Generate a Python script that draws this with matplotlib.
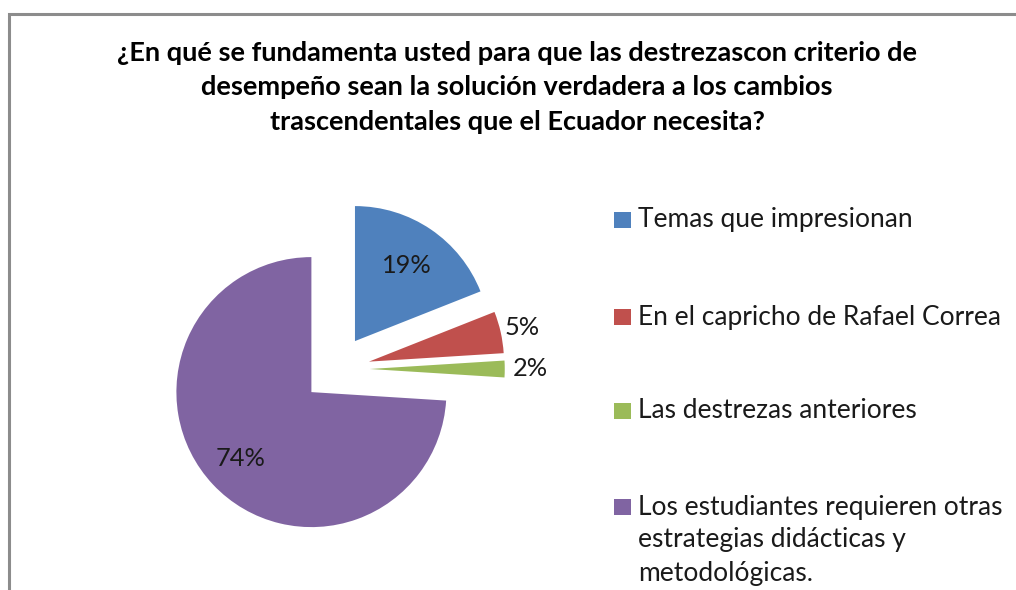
import matplotlib
matplotlib.use("Agg")
import matplotlib.pyplot as plt
from matplotlib.patches import Rectangle
import numpy as np

title = ("¿En qué se fundamenta usted para que las destrezascon criterio de\n"
         "desempeño sean la solución verdadera a los cambios\n"
         "trascendentales que el Ecuador necesita?")
categories = ["Temas que impresionan",
              "En el capricho de Rafael Correa",
              "Las destrezas anteriores",
              "Los estudiantes requieren otras\nestrategias didácticas y\nmetodológicas."]
values = [19, 5, 2, 74]
pct_labels = ["19%", "5%", "2%", "74%"]

colors = ["#4F81BD", "#C0504D", "#9BBB59", "#8064A2"]
label_dist = [0.68, 1.16, 1.19, 0.72]

W, H = 1016, 590
fig = plt.figure(figsize=(W / 100, H / 100), dpi=100)
fig.patch.set_facecolor("white")

# frame
fig.add_artist(Rectangle((8.5 / W, -0.1), 1.2, (H - 13.5) / H + 0.1, transform=fig.transFigure,
                         fill=False, edgecolor="#8C8C8C", linewidth=2.2))

# pie axes: center (336,369) px, radius 135 px
cx, cy, r, half = 336, 369, 135, 200
ax = fig.add_axes([(cx - half) / W, (H - cy - half) / H, 2 * half / W, 2 * half / H])
wedges, _ = ax.pie(values, colors=colors, startangle=90, counterclock=False,
                   explode=[0.25] * 4, radius=1.0,
                   wedgeprops=dict(linewidth=0))
ax.set_xlim(-half / r, half / r)
ax.set_ylim(-half / r, half / r)
ax.set_aspect("equal")
ax.axis("off")

font = "Lato"
for w, lab, d in zip(wedges, pct_labels, label_dist):
    th = np.deg2rad((w.theta1 + w.theta2) / 2)
    x0, y0 = w.center
    ax.text(x0 + d * w.r * np.cos(th), y0 + d * w.r * np.sin(th), lab,
            ha="center", va="center", fontsize=18.3, family=font, color="#1a1a1a")

title_y = [53, 87, 122]
for line, y in zip(title.split("\n"), title_y):
    fig.text(517 / W, 1 - y / H, line, ha="center", va="center", fontsize=19.5,
             fontweight="bold", family=font, color="black")

# legend
leg_y = [220, 317, 411, 507]
line_step = 33
for col, lab, y in zip(colors, categories, leg_y):
    fig.add_artist(Rectangle((614 / W, 1 - (y + 8) / H), 17 / W, 16 / H,
                             transform=fig.transFigure, facecolor=col, edgecolor="none"))
    for i, line in enumerate(lab.split("\n")):
        fig.text(638 / W, 1 - (y + i * line_step) / H, line, ha="left", va="center",
                 fontsize=19, family=font, color="#1a1a1a")

fig.savefig("out.png", dpi=100)
